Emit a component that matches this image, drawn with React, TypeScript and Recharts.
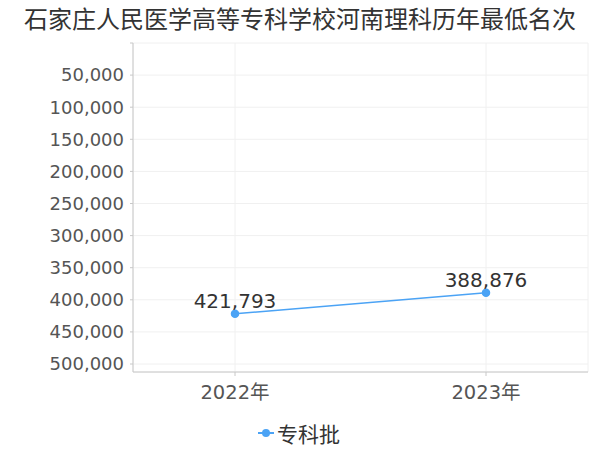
import * as React from "react";
import {
  CartesianGrid,
  LabelList,
  Legend,
  Line,
  LineChart,
  XAxis,
  YAxis,
} from "recharts";

const years = ["2022年", "2023年"];
const ranks = [421793, 388876];
const yTicks = [0, 50000, 100000, 150000, 200000, 250000, 300000, 350000, 400000, 450000, 500000];
const seriesName = "专科批";
const title = "石家庄人民医学高等专科学校河南理科历年最低名次";

const data = years.map((year, i) => ({ year, rank: ranks[i] }));

const BLUE = "#4ba3f5";
const FONT = "'DejaVu Sans', 'Noto Sans CJK SC', sans-serif";

const fmt = (v: number) => v.toLocaleString("en-US");

function LegendContent() {
  return (
    <div
      style={{
        display: "flex",
        justifyContent: "center",
        alignItems: "center",
        fontFamily: FONT,
        fontSize: 21,
        color: "#333",
        paddingTop: 6,
        paddingLeft: 10,
      }}
    >
      <svg width={16} height={12} style={{ marginRight: 3 }}>
        <line x1={0} y1={6} x2={16} y2={6} stroke={BLUE} strokeWidth={2} />
        <circle cx={8} cy={6} r={4} fill={BLUE} />
      </svg>
      <span>{seriesName}</span>
    </div>
  );
}

export default function App() {
  return (
    <div style={{ position: "absolute", left: 0, top: 0, width: 600, height: 450, background: "#fff" }}>
      <div
        style={{
          position: "absolute",
          left: 0,
          top: 3,
          width: 600,
          textAlign: "center",
          fontFamily: "'Noto Sans CJK SC', sans-serif",
          fontSize: 24,
          color: "#333",
          lineHeight: "30px",
        }}
      >
        {title}
      </div>
      <LineChart
        width={600}
        height={450}
        data={data}
        margin={{ top: 43, right: 12, left: 0, bottom: 0 }}
      >
        <CartesianGrid stroke="#f0f0f0" />
        <XAxis
          dataKey="year"
          type="category"
          padding={{ left: 102, right: 102 }}
          axisLine={{ stroke: "#c8c8c8" }}
          tickLine={{ stroke: "#c8c8c8" }}
          tickSize={4}
          tickMargin={9}
          height={40}
          tick={{ fill: "#555", fontSize: 19.5, fontFamily: FONT }}
          interval={0}
        />
        <YAxis
          reversed
          domain={[0, 500000]}
          ticks={yTicks}
          width={133}
          padding={{ top: 0, bottom: 8 }}
          tickFormatter={(v: number) => (v === 0 ? "" : fmt(v))}
          axisLine={{ stroke: "#c8c8c8" }}
          tickLine={{ stroke: "#c8c8c8" }}
          tickSize={3}
          tickMargin={6}
          tick={{ fill: "#555", fontSize: 18, fontFamily: FONT }}
          interval={0}
        />
        <YAxis
          yAxisId="edge"
          orientation="right"
          reversed
          domain={[0, 500000]}
          width={0}
          padding={{ top: 0, bottom: 8 }}
          axisLine={{ stroke: "#f0f0f0" }}
          tick={false}
          tickLine={false}
        />
        <Legend verticalAlign="bottom" height={38} content={<LegendContent />} />
        <Line
          dataKey="rank"
          name={seriesName}
          stroke={BLUE}
          strokeWidth={1.5}
          dot={{ r: 3.5, fill: BLUE, stroke: BLUE }}
          isAnimationActive={false}
        >
          <LabelList
            dataKey="rank"
            position="top"
            offset={6}
            formatter={(v: any) => fmt(Number(v))}
            style={{ fill: "#333", fontSize: 20, fontFamily: FONT }}
          />
        </Line>
      </LineChart>
    </div>
  );
}
